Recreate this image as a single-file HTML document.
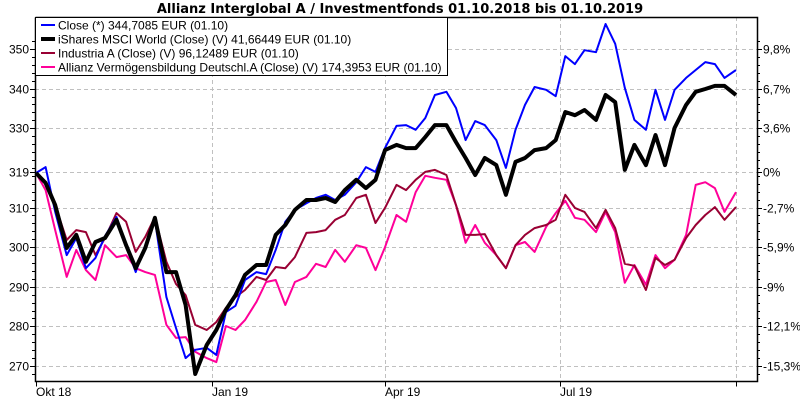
<!DOCTYPE html>
<html><head><meta charset="utf-8">
<style>
html,body{margin:0;padding:0;background:#fff;}
svg{display:block;font-family:"Liberation Sans",sans-serif;}
</style></head>
<body>
<svg id="chart" width="800" height="400" viewBox="0 0 800 400" xmlns="http://www.w3.org/2000/svg">
<rect x="0" y="0" width="800" height="400" fill="#fff"/>
<text x="400" y="13" text-anchor="middle" font-size="13" font-weight="bold" fill="#000" font-family="DejaVu Sans, sans-serif">Allianz Interglobal A / Investmentfonds 01.10.2018 bis 01.10.2019</text>
<g id="grid"></g>
<g id="series"></g>
<g id="axes"></g>
<g id="legend">
  <rect x="35.5" y="17.5" width="412" height="58" fill="#fff" stroke="#000" stroke-width="1"/>
  <g><line x1="41" y1="25" x2="55" y2="25" stroke="#0000ff" stroke-width="2"/><text x="58" y="29.5" font-size="12" textLength="0">Close (*) 344,7085 EUR (01.10)</text></g>
  <g><line x1="41" y1="39" x2="55" y2="39" stroke="#000" stroke-width="4"/><text x="58" y="43.5" font-size="12">iShares MSCI World (Close) (V) 41,66449 EUR (01.10)</text></g>
  <g><line x1="41" y1="53" x2="55" y2="53" stroke="#990033" stroke-width="2"/><text x="58" y="57.5" font-size="12">Industria A (Close) (V) 96,12489 EUR (01.10)</text></g>
  <g><line x1="41" y1="67" x2="55" y2="67" stroke="#ff0099" stroke-width="2"/><text x="58" y="71.5" font-size="12">Allianz Vermögensbildung Deutschl.A (Close) (V) 174,3953 EUR (01.10)</text></g>
</g>
</svg>
<script>
const days = [0,5,10,16,21,26,31,36,42,47,52,57,62,68,73,78,83,89,94,99,104,109,115,120,125,130,135,141,146,151,156,161,167,172,177,182,188,193,198,203,208,214,219,224,229,234,240,245,250,255,260,266,271,276,281,286,292,297,302,307,312,318,323,328,333,339,344,349,354,359,365];
const closeVals = [318.7,320.2,308.9,298.0,302.3,294.7,297.3,302.8,307.6,300.5,293.7,300.5,306.9,287.4,279.6,272.0,274.1,274.6,272.8,283.6,285.2,291.7,293.7,293.2,299.3,306.4,309.4,311.1,312.4,313.2,311.9,313.2,316.4,320.2,319.0,325.0,330.6,330.8,329.6,332.6,338.4,339.2,335.1,327.0,331.8,330.8,327.0,320.0,329.6,335.9,340.4,339.7,338.1,348.2,346.2,349.7,349.2,356.3,351.3,340.2,332.1,329.6,339.7,332.1,339.7,342.7,344.7,346.7,346.2,342.7,344.7];
const isharesVals = [318.7,316.2,310.6,299.8,303.1,296.3,301.3,302.3,306.9,300.5,294.7,299.8,307.4,293.7,293.7,285.4,268.0,275.3,279.1,284.2,287.9,293.0,295.5,295.5,303.1,305.6,309.4,311.9,311.9,312.4,311.4,314.4,317.0,314.9,317.0,324.5,325.8,325.0,325.0,327.8,330.8,330.8,326.5,322.5,318.2,322.5,320.7,313.2,321.5,322.5,324.5,325.0,327.0,334.1,333.3,334.6,332.1,338.4,336.6,319.5,325.8,320.7,328.3,320.7,330.1,335.9,339.2,339.9,340.7,340.7,338.4];
const industriaVals = [318.7,315.9,310.6,301.8,304.3,303.8,298.0,302.3,308.6,306.4,298.8,302.6,307.6,296.3,290.7,287.9,280.4,279.1,281.1,284.7,287.4,289.2,292.5,291.7,295.0,294.7,297.5,303.6,303.8,304.3,306.9,308.1,312.4,313.2,306.1,309.9,315.7,314.4,317.0,319.0,319.5,318.2,310.6,303.1,303.1,303.3,298.0,294.7,300.5,303.1,304.8,305.6,306.9,313.2,309.9,308.9,304.8,309.4,304.8,295.8,295.3,289.2,297.3,295.5,296.8,302.3,305.6,308.1,310.1,306.9,310.1];
const allianzVbVals = [318.7,314.4,304.3,292.5,299.3,294.2,291.7,300.5,297.5,298.0,294.7,293.7,293.0,280.4,277.1,277.3,273.6,272.0,271.0,280.1,279.1,281.6,286.2,291.2,291.7,285.4,291.2,292.5,295.8,295.0,299.3,296.3,300.5,299.8,294.2,300.0,308.1,306.4,313.9,318.0,317.5,317.0,310.6,301.1,305.6,301.1,298.0,294.7,300.5,301.3,298.8,305.1,308.6,311.7,307.4,306.9,303.8,308.9,303.8,291.0,295.5,290.5,298.0,294.7,296.8,303.1,315.7,316.4,314.9,308.9,313.9];
const leftTicks = [350,340,330,319,310,300,290,280,270];
const rightTickLabels = ["9,8%","6,7%","3,6%","0%","-2,7%","-5,9%","-9%","-12,1%","-15,3%"];
const monthDays = [0,92,182,273,365];
const monthLabels = ["Okt 18","Jan 19","Apr 19","Jul 19",""];

const NS = "http://www.w3.org/2000/svg";
const PL = 35, PR = 757, PT = 17, PB = 381.5;
function xScale(d){ return 36 + d * (700/365); }
function yScale(v){ return 49 + (350 - v) * 3.963; }
function mk(tag, attrs, parent){
  const e = document.createElementNS(NS, tag);
  for (const k in attrs) e.setAttribute(k, attrs[k]);
  parent.appendChild(e); return e;
}
document.querySelectorAll('text[textLength="0"]').forEach(t => t.removeAttribute('textLength'));
const grid = document.getElementById('grid');
const axes = document.getElementById('axes');
const series = document.getElementById('series');

leftTicks.forEach((v, i) => {
  const y = Math.round(yScale(v)) + 0.5;
  const g = mk('line', {x1: PL, x2: PR, y1: y, y2: y, stroke: '#c0c0c0', 'stroke-dasharray': '4,3', 'stroke-width': 1}, grid);
  
  
  const t = mk('text', {x: 29, y: y + 4, 'text-anchor': 'end', 'font-size': 12}, axes);
  t.textContent = v;
  
  
  const tk = mk('line', {x1: PL - 5, x2: PL, y1: y, y2: y, stroke: '#000'}, axes);
  
  
  const rt = mk('text', {x: 763, y: y + 4, 'font-size': 12}, axes);
  rt.textContent = rightTickLabels[i];
  
  
  const rtk = mk('line', {x1: PR, x2: PR + 5, y1: y, y2: y, stroke: '#000'}, axes);
  
  
});
for (let v = 268; v <= 352; v += 2) {
  const y = Math.round(yScale(v)) + 0.5;
  if (y < PT || y > PB) continue;
  const m = mk('line', {x1: PL - 3, x2: PL, y1: y, y2: y, stroke: '#000'}, axes);
  
  
  const m2 = mk('line', {x1: PR, x2: PR + 3, y1: y, y2: y, stroke: '#000'}, axes);
  
  
}
monthDays.forEach((d, i) => {
  const x = Math.round(xScale(d)) + 0.5;
  if (i > 0) {
    const g = mk('line', {x1: x, x2: x, y1: PT, y2: PB, stroke: '#c0c0c0', 'stroke-dasharray': '4,3'}, grid);
    
    
  }
  const tk = mk('line', {x1: x, x2: x, y1: PB, y2: PB + 5, stroke: '#000'}, axes);
  
  
  if (monthLabels[i]) {
    const t = mk('text', {x: x - 0.5, y: 396, 'font-size': 12}, axes);
    t.textContent = monthLabels[i];
    
    
  }
});
const fr = mk('path', {d: `M${PL+0.5},${PT+0.5} V${PB} H${PR+0.5} V${PT+0.5} H${PL+0.5}`, fill: 'none', stroke: '#000', 'stroke-width': 1.5}, axes);



function drawLine(vals, color, w, name){
  const pts = vals.map((v, i) => xScale(days[i]).toFixed(1) + ',' + yScale(v).toFixed(1)).join(' ');
  const p = mk('polyline', {points: pts, fill: 'none', stroke: color, 'stroke-width': w, 'stroke-linejoin': 'round'}, series);
  
  
}
drawLine(allianzVbVals, '#ff0099', 2, 'allianz-vb-line');
drawLine(industriaVals, '#990033', 2, 'industria-line');
drawLine(closeVals, '#0000ff', 2, 'close-line');
drawLine(isharesVals, '#000000', 4, 'ishares-line');
</script>
</body></html>
